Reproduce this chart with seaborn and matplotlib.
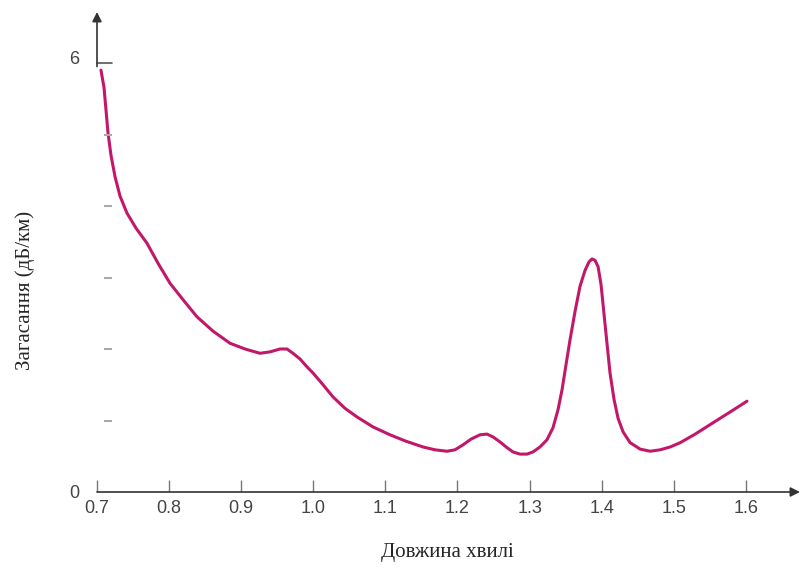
import pandas as pd
import matplotlib.pyplot as plt
import matplotlib.transforms as mtransforms
import seaborn as sns

# === Data ===
wavelength = [0.7055, 0.7097, 0.7125, 0.7153, 0.7194, 0.725, 0.7319, 0.7416, 0.7541, 0.7693,
              0.7846, 0.8012, 0.8193, 0.8387, 0.8609, 0.8845, 0.9053, 0.9261, 0.940, 0.9538,
              0.9635, 0.9718, 0.9816, 0.9913, 1.000, 1.0135, 1.0273, 1.044, 1.0606, 1.0828,
              1.1064, 1.1286, 1.1521, 1.1688, 1.1854, 1.1965, 1.2077, 1.2188, 1.2312, 1.2409,
              1.2493, 1.259, 1.2687, 1.277, 1.2867, 1.2964, 1.3047, 1.3144, 1.3241, 1.3325,
              1.3394, 1.345, 1.3505, 1.3561, 1.3631, 1.370, 1.3769, 1.3825, 1.3866, 1.3908,
              1.395, 1.3991, 1.4019, 1.4061, 1.4116, 1.4172, 1.4227, 1.4297, 1.4394, 1.4533,
              1.4672, 1.4811, 1.495, 1.5089, 1.5297, 1.5547, 1.5783, 1.6015]
attenuation = [5.90, 5.66, 5.34, 5.02, 4.71, 4.41, 4.14, 3.90, 3.69, 3.48,
               3.20, 2.92, 2.69, 2.45, 2.25, 2.08, 2.00, 1.94, 1.96, 2.00,
               2.00, 1.94, 1.86, 1.75, 1.66, 1.50, 1.33, 1.17, 1.05, 0.91,
               0.80, 0.71, 0.63, 0.59, 0.57, 0.59, 0.66, 0.74, 0.80, 0.81,
               0.77, 0.70, 0.62, 0.56, 0.53, 0.53, 0.56, 0.63, 0.73, 0.90,
               1.15, 1.43, 1.78, 2.13, 2.53, 2.88, 3.10, 3.22, 3.26, 3.24,
               3.15, 2.90, 2.62, 2.20, 1.66, 1.29, 1.03, 0.84, 0.69, 0.60,
               0.57, 0.59, 0.63, 0.69, 0.81, 0.97, 1.12, 1.27]

x_ticks = [0.7, 0.8, 0.9, 1.0, 1.1, 1.2, 1.3, 1.4, 1.5, 1.6]
y_ticks = [0, 1, 2, 3, 4, 5, 6]
y_minor = [1, 2, 3, 4, 5]
y_labels = ["0", "", "", "", "", "", "6"]

df = pd.DataFrame({"wavelength": wavelength, "attenuation": attenuation})

# === Plot ===
sns.set_style("white")
fig = plt.figure(figsize=(8.03, 5.68), dpi=100)
ax = fig.add_axes([97 / 803, 1 - 492 / 568, (800 - 97) / 803, (492 - 12) / 568])

sns.lineplot(data=df, x="wavelength", y="attenuation", ax=ax,
             color="#c2186a", linewidth=2.2, sort=False)
ax.get_lines()[0].set_solid_joinstyle("round")
ax.set_xlabel("")
ax.set_ylabel("")

ax.set_xlim(0.7, 0.7 + (800 - 97) / 721)
ax.set_ylim(0, (492 - 12) / 71.5)

for s in ax.spines.values():
    s.set_visible(False)

# axes drawn as arrows
ax.annotate("", xy=(1.0, 0), xytext=(0, 0), xycoords="axes fraction",
            arrowprops=dict(arrowstyle="-|>", color="#333333", lw=1.2,
                            mutation_scale=14, shrinkA=0, shrinkB=0))
ax.annotate("", xy=(0.7, (492 - 12) / 71.5), xytext=(0.7, 5.95), xycoords="data",
            arrowprops=dict(arrowstyle="-|>", color="#333333", lw=1.2,
                            mutation_scale=14, shrinkA=0, shrinkB=0),
            annotation_clip=False)
ax.plot([0.7, 0.7 + 15 / 721], [6, 6], color="#555555", lw=1.2, clip_on=False)
# small faint y ticks, set off from the axis line
ax.hlines(y_minor, 0.7 + 7 / 721, 0.7 + 15 / 721, color="#aaaaaa", lw=1.5)

ax.set_xticks(x_ticks)
ax.set_xticklabels([f"{t:.1f}" for t in x_ticks])
ax.set_yticks(y_ticks)
ax.set_yticklabels(y_labels)
ax.tick_params(axis="x", bottom=True, direction="in", length=9, width=1, color="#777777",
               labelsize=13, labelcolor="#444444", pad=6)
ax.tick_params(axis="y", left=False, labelsize=13, labelcolor="#444444", pad=9)
for lab in ax.get_xticklabels() + ax.get_yticklabels():
    lab.set_fontfamily("Liberation Sans")
six = ax.get_yticklabels()[-1]
six.set_transform(six.get_transform() + mtransforms.ScaledTranslation(0, 5 / 100, fig.dpi_scale_trans))

fig.text(25 / 803, 1 - 290 / 568, "Загасання (дБ/км)", rotation=90,
         ha="center", va="center", fontsize=15, family="Liberation Serif")
fig.text(447 / 803, 1 - 553 / 568, "Довжина хвилі",
         ha="center", va="center", fontsize=15, family="Liberation Serif")

plt.savefig("out.png", dpi=100)
plt.close()
